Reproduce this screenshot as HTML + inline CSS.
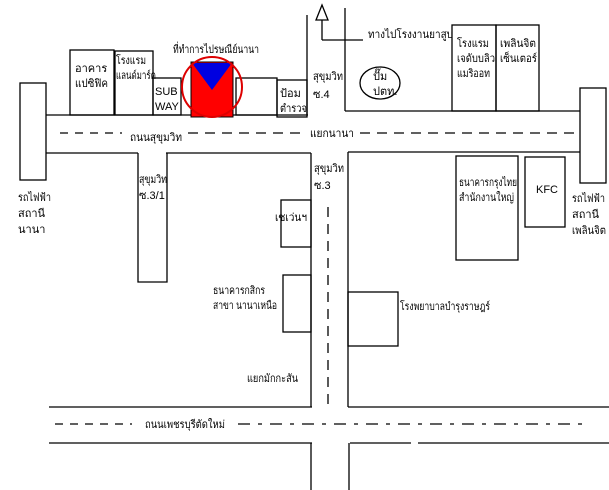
<!DOCTYPE html>
<html><head><meta charset="utf-8"><style>
html,body{margin:0;padding:0;background:#fff;}
svg{display:block;}
text{font-family:"Liberation Sans","Noto Sans CJK SC",sans-serif;font-size:11px;fill:#000;}
</style></head><body>
<svg width="609" height="490" viewBox="0 0 609 490" xmlns="http://www.w3.org/2000/svg">
<g fill="none" stroke="#000" stroke-width="1.3">
<rect x="20" y="83" width="26" height="97"/>
<rect x="580" y="88" width="26" height="95"/>
<line x1="46" y1="115" x2="308" y2="115"/>
<line x1="46" y1="153" x2="138" y2="153"/>
<line x1="166" y1="153" x2="311" y2="153"/>
<line x1="345" y1="111" x2="580" y2="111"/>
<line x1="348" y1="152" x2="580" y2="152"/>
<polyline points="138,153 138,282 167,282 167,153"/>
<line x1="307" y1="15" x2="307" y2="115"/>
<line x1="345" y1="8" x2="345" y2="111"/>
<line x1="311" y1="153" x2="311" y2="407"/>
<line x1="348" y1="152" x2="348" y2="407"/>
<line x1="311" y1="443" x2="311" y2="490"/>
<line x1="349" y1="443" x2="349" y2="490"/>
<line x1="49" y1="407" x2="312" y2="407"/>
<line x1="348" y1="407" x2="609" y2="407"/>
<line x1="49" y1="443" x2="312" y2="443"/>
<line x1="350" y1="443" x2="411" y2="443"/>
<line x1="418" y1="443" x2="609" y2="443"/>
<rect x="70" y="50" width="44" height="65"/>
<rect x="115" y="51" width="38" height="64"/>
<rect x="153" y="78" width="28" height="37"/>
<rect x="236" y="78" width="41" height="37"/>
<rect x="277" y="80" width="30" height="37"/>
<rect x="452" y="25" width="44" height="86"/>
<rect x="496" y="25" width="43" height="86"/>
<rect x="456" y="156" width="62" height="104"/>
<rect x="525" y="157" width="40" height="70"/>
<rect x="281" y="200" width="30" height="47"/>
<rect x="283" y="275" width="28" height="57"/>
<rect x="348" y="292" width="50" height="54"/>
<ellipse cx="380" cy="83" rx="20" ry="16"/>
<polyline points="322,40 322,20"/>
<polygon points="316,20 322,5 328,20"/>
<polyline points="322,40 363,40"/>
<line x1="60" y1="133" x2="122" y2="133" stroke-dasharray="8,7"/>
<line x1="188" y1="133" x2="305" y2="133" stroke-dasharray="10,7"/>
<line x1="360" y1="133" x2="580" y2="133" stroke-dasharray="10,7"/>
<line x1="328" y1="207" x2="328" y2="405" stroke-dasharray="10,7"/>
<line x1="55" y1="424" x2="132" y2="424" stroke-dasharray="8,7"/>
<line x1="238" y1="424" x2="585" y2="424" stroke-dasharray="12,8,4,8"/>
</g>
<rect x="191" y="62" width="42" height="55" fill="#f00" stroke="#000"/>
<polygon points="192,63 232,63 212,90" fill="#0000e0"/>
<circle cx="212" cy="87" r="30" fill="none" stroke="#d00" stroke-width="2"/>
<text x="173" y="53" textLength="86" lengthAdjust="spacingAndGlyphs">ที่ทำการไปรษณีย์นานา</text>
<text x="75" y="72">อาคาร</text><text x="75" y="87" textLength="33" lengthAdjust="spacingAndGlyphs">แปซิฟิค</text>
<text x="116" y="64" textLength="30" lengthAdjust="spacingAndGlyphs">โรงแรม</text><text x="116" y="79" textLength="40" lengthAdjust="spacingAndGlyphs">แลนด์มาร์ค</text>
<text x="155" y="95">SUB</text><text x="155" y="110">WAY</text>
<text x="280" y="97">ป้อม</text><text x="280" y="112" textLength="27" lengthAdjust="spacingAndGlyphs">ตำรวจ</text>
<text x="313" y="80" textLength="30" lengthAdjust="spacingAndGlyphs">สุขุมวิท</text><text x="313" y="98">ซ.4</text>
<text x="368" y="38" textLength="85" lengthAdjust="spacingAndGlyphs">ทางไปโรงงานยาสูบ</text>
<text x="373" y="80">ปั๊ม</text><text x="373" y="95">ปตท.</text>
<text x="457" y="47" textLength="32" lengthAdjust="spacingAndGlyphs">โรงแรม</text><text x="457" y="62" textLength="38" lengthAdjust="spacingAndGlyphs">เจดับบลิว</text><text x="457" y="77" textLength="33" lengthAdjust="spacingAndGlyphs">แมริออท</text>
<text x="500" y="47" textLength="36" lengthAdjust="spacingAndGlyphs">เพลินจิต</text><text x="500" y="62" textLength="37" lengthAdjust="spacingAndGlyphs">เซ็นเตอร์</text>
<text x="310" y="137" textLength="44" lengthAdjust="spacingAndGlyphs">แยกนานา</text>
<text x="130" y="141" textLength="52" lengthAdjust="spacingAndGlyphs">ถนนสุขุมวิท</text>
<text x="18" y="201" textLength="33" lengthAdjust="spacingAndGlyphs">รถไฟฟ้า</text><text x="18" y="217">สถานี</text><text x="18" y="233">นานา</text>
<text x="139" y="183" textLength="28" lengthAdjust="spacingAndGlyphs">สุขุมวิท</text><text x="139" y="199">ซ.3/1</text>
<text x="314" y="172" textLength="30" lengthAdjust="spacingAndGlyphs">สุขุมวิท</text><text x="314" y="189">ซ.3</text>
<text x="275" y="221" textLength="32" lengthAdjust="spacingAndGlyphs">เซเว่นฯ</text>
<text x="213" y="294" textLength="52" lengthAdjust="spacingAndGlyphs">ธนาคารกสิกร</text><text x="213" y="309" textLength="64" lengthAdjust="spacingAndGlyphs">สาขา นานาเหนือ</text>
<text x="247" y="382" textLength="51" lengthAdjust="spacingAndGlyphs">แยกมักกะสัน</text>
<text x="400" y="310" textLength="90" lengthAdjust="spacingAndGlyphs">โรงพยาบาลบำรุงราษฎร์</text>
<text x="459" y="186" textLength="58" lengthAdjust="spacingAndGlyphs">ธนาคารกรุงไทย</text><text x="459" y="201" textLength="55" lengthAdjust="spacingAndGlyphs">สำนักงานใหญ่</text>
<text x="536" y="193">KFC</text>
<text x="572" y="202" textLength="33" lengthAdjust="spacingAndGlyphs">รถไฟฟ้า</text><text x="572" y="218">สถานี</text><text x="572" y="234" textLength="34" lengthAdjust="spacingAndGlyphs">เพลินจิต</text>
<text x="145" y="428" textLength="80" lengthAdjust="spacingAndGlyphs">ถนนเพชรบุรีตัดใหม่</text>
</svg>
</body></html>
